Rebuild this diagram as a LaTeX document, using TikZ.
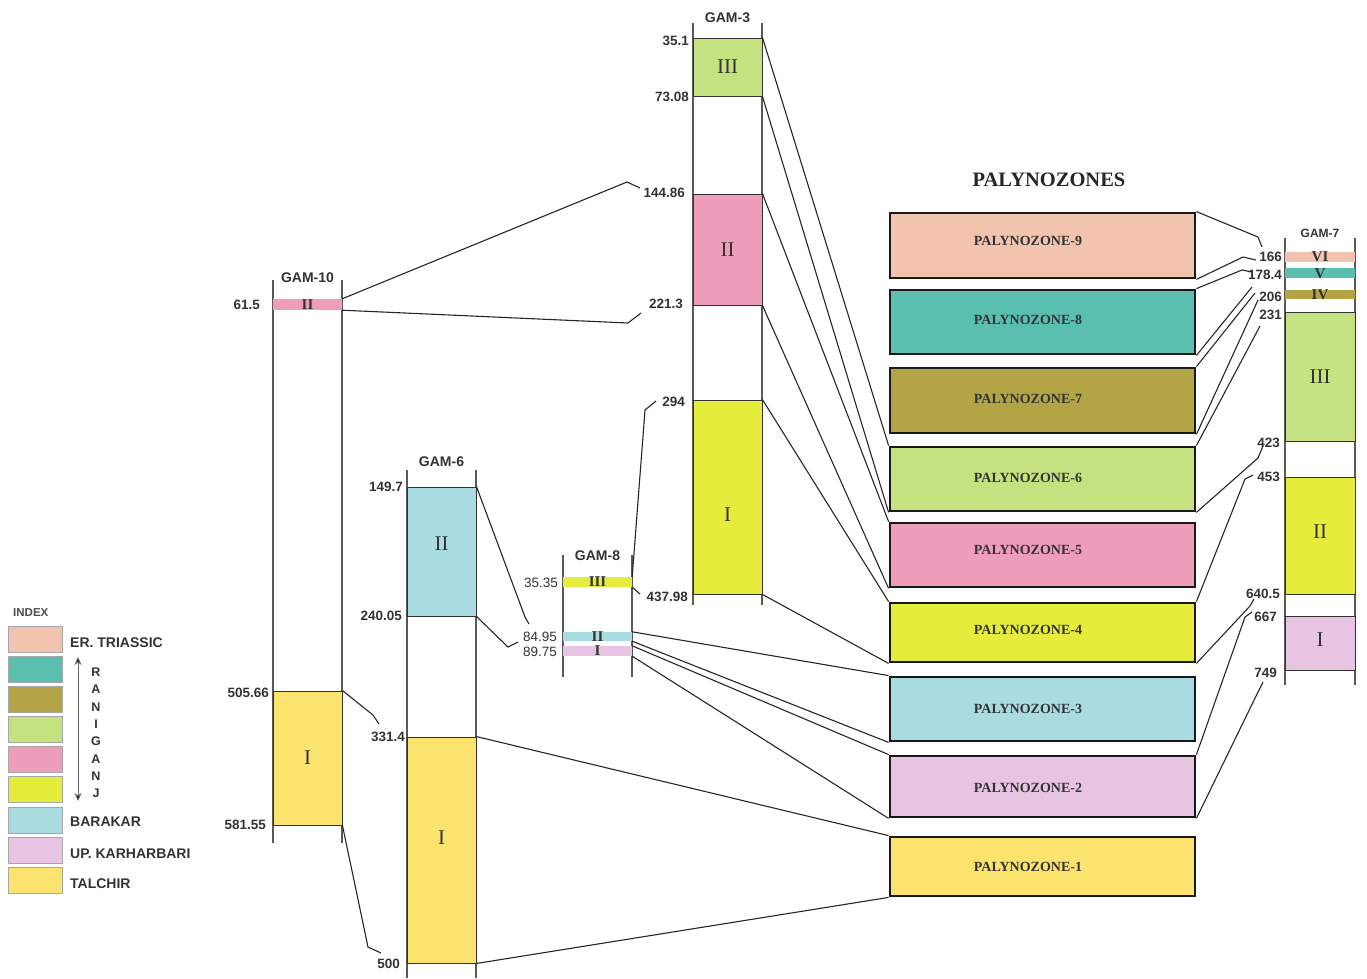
\documentclass[tikz,border=0pt]{standalone}
\usepackage{fontspec}
\setmainfont{Liberation Serif}
\setsansfont{Liberation Sans}
\usetikzlibrary{arrows.meta}
\definecolor{cPeach}{HTML}{F2C4B0}
\definecolor{cTeal}{HTML}{5BBFB0}
\definecolor{cOlive}{HTML}{B3A445}
\definecolor{cLgreen}{HTML}{C6E17F}
\definecolor{cPink}{HTML}{EE9DBA}
\definecolor{cYgreen}{HTML}{E6EC3C}
\definecolor{cLblue}{HTML}{A9DCE1}
\definecolor{cLav}{HTML}{E6C4E2}
\definecolor{cYellow}{HTML}{FBE36E}
\definecolor{ink}{HTML}{333333}
\begin{document}
\begin{tikzpicture}[x=1pt,y=-1pt,
  colline/.style={line width=1.4pt, draw=black!65},
  band/.style={inner sep=0pt, minimum width=69pt, draw=ink, line width=0.9pt},
  thinband/.style={inner sep=0pt, minimum width=69pt, draw=none},
  btext/.style={font=\fontsize{21}{21}\selectfont, text=ink, inner sep=0pt},
  sbtext/.style={font=\bfseries\fontsize{15}{15}\selectfont, text=ink, inner sep=0pt},
  conn/.style={line width=1.1pt, draw=black!85},
  num/.style={font=\sffamily\bfseries\fontsize{13.5}{14}\selectfont, text=ink, inner sep=0pt, anchor=east},
  gam/.style={font=\sffamily\bfseries\fontsize{14}{14}\selectfont, text=ink, inner sep=0pt},
  pz/.style={draw=black!90, line width=2.8pt, minimum width=305pt, inner sep=0pt},
  pztext/.style={font=\bfseries\fontsize{14}{14}\selectfont, text=ink, inner sep=0pt},
  swatch/.style={draw=black!35, line width=0.6pt, minimum width=54pt, minimum height=26pt, inner sep=0pt},
  legtext/.style={font=\sffamily\bfseries\fontsize{14}{14}\selectfont, text=ink, inner sep=0pt, anchor=west},
  rletter/.style={font=\sffamily\bfseries\fontsize{12.5}{12.5}\selectfont, text=ink, inner sep=0pt}
]
\useasboundingbox (0,0) rectangle (1367,978);

% ---------------- column lines ----------------
\draw[colline] (273,280) -- (273,843);
\draw[colline] (342,280) -- (342,843);
\draw[colline] (407,470) -- (407,978);
\draw[colline] (476,470) -- (476,978);
\draw[colline] (563,555) -- (563,677);
\draw[colline] (632,555) -- (632,677);
\draw[colline] (693,23) -- (693,605);
\draw[colline] (762,23) -- (762,605);
\draw[colline] (1285,238) -- (1285,685);
\draw[colline] (1355,238) -- (1355,685);

% ---------------- titles ----------------
\node[gam] (t10) at (307.5,278) {GAM-10};
\node[gam] (t6) at (441.5,462) {GAM-6};
\node[gam] (t8) at (597.5,556) {GAM-8};
\node[gam] (t3) at (727.5,18) {GAM-3};
\node[gam, font=\sffamily\bfseries\fontsize{12}{12}\selectfont] (t7) at (1320,233) {GAM-7};
\node[font=\bfseries\fontsize{20.5}{21}\selectfont, text=black!85, inner sep=0pt] (ptitle) at (1049,180) {PALYNOZONES};

% ---------------- GAM-10 ----------------
\node[thinband, fill=cPink, minimum height=11pt, label={[sbtext]center:II}] (g10II) at (307.5,304.5) {};
\node[band, fill=cYellow, minimum height=134pt, label={[btext]center:I}] (g10I) at (307.5,758) {};
\node[num] (n615) at (260,305) {61.5};
\node[num] (n50566) at (269,693) {505.66};
\node[num] (n58155) at (266,825) {581.55};

% ---------------- GAM-6 ----------------
\node[band, fill=cLblue, minimum height=129pt, label={[btext, yshift=8pt]center:II}] (g6II) at (441.5,551.5) {};
\node[band, fill=cYellow, minimum height=226pt, label={[btext, yshift=12pt]center:I}] (g6I) at (441.5,850) {};
\node[num] (n1497) at (403,487) {149.7};
\node[num] (n24005) at (402,616) {240.05};
\node[num] (n3314) at (405,737) {331.4};
\node[num] (n500) at (400,964) {500};

% ---------------- GAM-8 ----------------
\node[thinband, fill=cYgreen, minimum height=10pt, label={[sbtext]center:III}] (g8III) at (597.5,582) {};
\node[thinband, fill=cLblue, minimum height=9pt, label={[sbtext]center:II}] (g8II) at (597.5,636.5) {};
\node[thinband, fill=cLav, minimum height=10pt, label={[sbtext]center:I}] (g8I) at (597.5,651) {};
\node[num, font=\sffamily\fontsize{13.5}{14}\selectfont] (n3535) at (558,583) {35.35};
\node[num, font=\sffamily\fontsize{13.5}{14}\selectfont] (n8495) at (557,637) {84.95};
\node[num, font=\sffamily\fontsize{13.5}{14}\selectfont] (n8975) at (557,652) {89.75};

% ---------------- GAM-3 ----------------
\node[band, fill=cLgreen, minimum height=58pt, label={[btext]center:III}] (g3III) at (727.5,67) {};
\node[band, fill=cPink, minimum height=111pt, label={[btext]center:II}] (g3II) at (727.5,249.5) {};
\node[band, fill=cYgreen, minimum height=194pt, label={[btext, yshift=-18pt]center:I}] (g3I) at (727.5,497) {};
\node[num] (n351) at (689,41) {35.1};
\node[num] (n7308) at (689,97) {73.08};
\node[num] (n14486) at (685,193) {144.86};
\node[num] (n2213) at (683,304) {221.3};
\node[num] (n294) at (685,402) {294};
\node[num] (n43798) at (688,597) {437.98};

% ---------------- GAM-7 ----------------
\node[thinband, minimum width=70pt, fill=cPeach, minimum height=10pt, label={[sbtext]center:VI}] (g7VI) at (1320,257) {};
\node[thinband, minimum width=70pt, fill=cTeal, minimum height=10pt, label={[sbtext, yshift=-1pt]center:V}] (g7V) at (1320,273) {};
\node[thinband, minimum width=70pt, fill=cOlive, minimum height=9pt, label={[sbtext]center:IV}] (g7IV) at (1320,294.5) {};
\node[band, minimum width=70pt, fill=cLgreen, minimum height=129pt, label={[btext]center:III}] (g7III) at (1320,376.5) {};
\node[band, minimum width=70pt, fill=cYgreen, minimum height=117pt, label={[btext, yshift=4pt]center:II}] (g7II) at (1320,535.5) {};
\node[band, minimum width=70pt, fill=cLav, minimum height=54pt, label={[btext, yshift=3pt]center:I}] (g7I) at (1320,643) {};
\node[num] (n166) at (1282,257) {166};
\node[num] (n1784) at (1282,275) {178.4};
\node[num] (n206) at (1282,297) {206};
\node[num] (n231) at (1282,315) {231};
\node[num] (n423) at (1280,443) {423};
\node[num] (n453) at (1280,477) {453};
\node[num] (n6405) at (1280,594) {640.5};
\node[num] (n667) at (1277,617) {667};
\node[num] (n749) at (1277,673) {749};

% ---------------- palynozones ----------------
\node[pz, fill=cPeach, minimum height=65pt] (pz9) at (1042.5,245.5) {};
\node[pz, fill=cTeal, minimum height=64pt] (pz8) at (1042.5,322) {};
\node[pz, fill=cOlive, minimum height=65pt] (pz7) at (1042.5,400.5) {};
\node[pz, fill=cLgreen, minimum height=64pt] (pz6) at (1042.5,479) {};
\node[pz, fill=cPink, minimum height=64pt] (pz5) at (1042.5,555) {};
\node[pz, fill=cYgreen, minimum height=59pt] (pz4) at (1042.5,632.5) {};
\node[pz, fill=cLblue, minimum height=64pt] (pz3) at (1042.5,709) {};
\node[pz, fill=cLav, minimum height=61pt] (pz2) at (1042.5,786.5) {};
\node[pz, fill=cYellow, minimum height=59pt] (pz1) at (1042.5,866.5) {};
\foreach \k/\y in {9/241,8/320,7/399,6/478,5/550,4/630,3/709,2/788,1/867}
  \node[pztext] (pzt\k) at (1028,\y) {PALYNOZONE-\k};

% ---------------- bracket end points ----------------
\coordinate (k14486) at (640,188);
\coordinate (k2213) at (641,313);
\coordinate (k3314) at (379,724);
\coordinate (k500) at (381,953);
\coordinate (k8495a) at (529,624);
\coordinate (k8495b) at (518,642);
\coordinate (k294) at (656,401);
\coordinate (k43798) at (640,594);
\coordinate (k166a) at (1262,247);
\coordinate (k166b) at (1256,260);
\coordinate (k1784) at (1252,272);
\coordinate (k206a) at (1252,287);
\coordinate (k206b) at (1255,293);
\coordinate (k206c) at (1258,300);
\coordinate (k231) at (1260,326);
\coordinate (k423) at (1263,446);
\coordinate (k453) at (1253,475);
\coordinate (k6405) at (1254,599);
\coordinate (k667) at (1252,612);
\coordinate (k749) at (1263,682);

% ---------------- connectors ----------------
% GAM-10 -> GAM-3
\draw[conn] (g10II.north east) -- (627,182) -- (k14486);
\draw[conn] (g10II.south east) -- (628,323) -- (k2213);
% GAM-10 -> GAM-6
\draw[conn] (g10I.north east) -- (373,715) -- (k3314);
\draw[conn] (g10I.south east) -- (368,947) -- (k500);
% GAM-6 -> GAM-8
\draw[conn] (g6II.north east) -- (525,617) -- (k8495a);
\draw[conn] (g6II.south east) -- (508,647) -- (k8495b);
% GAM-8 -> GAM-3
\draw[conn] (g8III.north east) -- (645,410) -- (k294);
\draw[conn] (g8III.south east) -- (k43798);
% GAM-6 -> PZ-1
\draw[conn] (g6I.north east) -- (pz1.north west);
\draw[conn] (g6I.south east) -- (pz1.south west);
% GAM-8 -> PZ-3, PZ-2
\draw[conn] (g8II.north east) -- (pz3.north west);
\draw[conn] (g8II.south east) -- (pz3.south west);
\draw[conn] (g8I.north east) -- (pz2.north west);
\draw[conn] (g8I.south east) -- (pz2.south west);
% GAM-3 -> PZ-6, PZ-5, PZ-4
\draw[conn] (g3III.north east) -- (pz6.north west);
\draw[conn] (g3III.south east) -- (pz6.south west);
\draw[conn] (g3II.north east) -- (pz5.north west);
\draw[conn] (g3II.south east) -- (pz5.south west);
\draw[conn] (g3I.north east) -- (pz4.north west);
\draw[conn] (g3I.south east) -- (pz4.south west);
% PZ -> GAM-7
\draw[conn] (pz9.north east) -- (1258,237) -- (k166a);
\draw[conn] (pz9.south east) -- (1243,257) -- (k166b);
\draw[conn] (pz8.north east) -- (1242,270) -- (k1784);
\draw[conn] (pz8.south east) -- (k206a);
\draw[conn] (pz7.north east) -- (k206b);
\draw[conn] (pz7.south east) -- (k206c);
\draw[conn] (pz6.north east) -- (k231);
\draw[conn] (pz6.south east) -- (1258,458) -- (k423);
\draw[conn] (pz4.north east) -- (1245,479) -- (k453);
\draw[conn] (pz4.south east) -- (1250,606) -- (k6405);
\draw[conn] (pz2.north east) -- (1245,617) -- (k667);
\draw[conn] (pz2.south east) -- (1258,692) -- (k749);

% ---------------- legend ----------------
\node[font=\sffamily\bfseries\fontsize{11.5}{12}\selectfont, text=black!70, inner sep=0pt, anchor=west] (index) at (13,613) {INDEX};
\node[swatch, fill=cPeach] (s1) at (35.5,639) {};
\node[swatch, fill=cTeal] (s2) at (35.5,669.5) {};
\node[swatch, fill=cOlive] (s3) at (35.5,699.5) {};
\node[swatch, fill=cLgreen] (s4) at (35.5,729) {};
\node[swatch, fill=cPink] (s5) at (35.5,759.5) {};
\node[swatch, fill=cYgreen] (s6) at (35.5,789.5) {};
\node[swatch, fill=cLblue] (s7) at (35.5,820) {};
\node[swatch, fill=cLav] (s8) at (35.5,850) {};
\node[swatch, fill=cYellow] (s9) at (35.5,880) {};
\node[legtext] (l1) at (70,643) {ER. TRIASSIC};
\node[legtext] (l7) at (70,822) {BARAKAR};
\node[legtext] (l8) at (70,854) {UP. KARHARBARI};
\node[legtext] (l9) at (70,884) {TALCHIR};
\coordinate (arT) at (78,657);
\coordinate (arB) at (78,801);
\draw[line width=0.8pt, draw=black!60, {Stealth[length=8pt,width=7pt,fill=black]}-{Stealth[length=8pt,width=7pt,fill=black]}] (arB) -- (arT);
\foreach \L [count=\i] in {R,A,N,I,G,A,N,J}
  \node[rletter] (rl\i) at (96,{655+17.3*\i}) {\L};
\end{tikzpicture}
\end{document}
